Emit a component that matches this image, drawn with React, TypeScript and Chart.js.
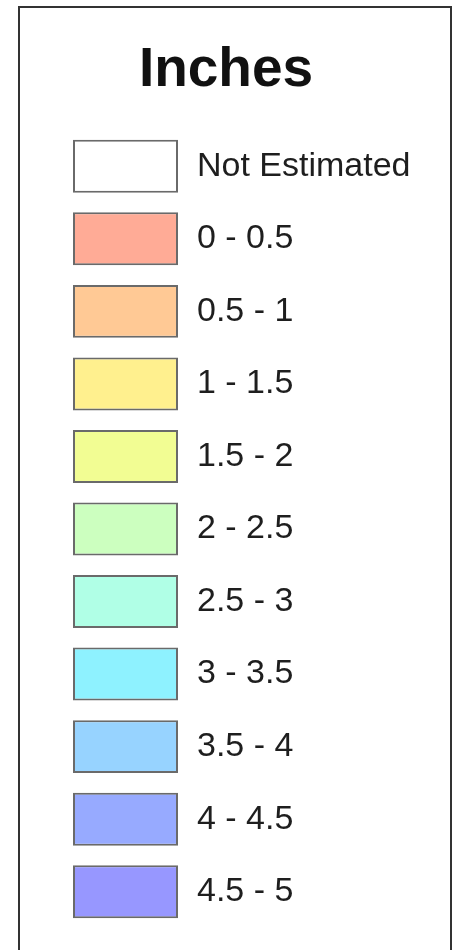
import React, { useEffect, useRef } from "react";
import { Chart, registerables } from "chart.js";

Chart.register(...registerables);

const legendTitle = "Inches";
const binLabels = [
  "Not Estimated",
  "0 - 0.5",
  "0.5 - 1",
  "1 - 1.5",
  "1.5 - 2",
  "2 - 2.5",
  "2.5 - 3",
  "3 - 3.5",
  "3.5 - 4",
  "4 - 4.5",
  "4.5 - 5",
];
const binColors = [
  "#ffffff",
  "#ffab96",
  "#ffc995",
  "#fff08e",
  "#f2fd93",
  "#ccffbf",
  "#b0ffe6",
  "#8ef2ff",
  "#97d3ff",
  "#97aaff",
  "#9797ff",
];
const swatchValues = [1, 1, 1, 1, 1, 1, 1, 1, 1, 1, 1];

const FONT = "'Liberation Sans', Arial, sans-serif";

export default function App() {
  const ref = useRef<HTMLCanvasElement | null>(null);

  useEffect(() => {
    if (!ref.current) return;
    const chart = new Chart(ref.current, {
      type: "bar",
      data: {
        labels: binLabels,
        datasets: [
          {
            data: swatchValues,
            backgroundColor: binColors,
            borderColor: "#6a6a6a",
            borderWidth: 2,
            borderSkipped: false,
            barPercentage: 0.73,
            categoryPercentage: 1,
            yAxisID: "y",
          },
        ],
      },
      options: {
        indexAxis: "y",
        responsive: false,
        animation: false,
        devicePixelRatio: 1,
        layout: { padding: { left: 0, right: 0, top: 0, bottom: 22 } },
        scales: {
          x: {
            display: false,
            min: 0,
            max: 1,
          },
          yl: {
            type: "category",
            position: "left",
            grid: { display: false, drawTicks: false },
            border: { display: false },
            ticks: { display: false },
            afterFit: (scale: any) => {
              scale.width = 73;
              scale.paddingTop = 0;
              scale.paddingBottom = 0;
            },
          },
          y: {
            type: "category",
            position: "right",
            grid: { display: false, drawTicks: false },
            border: { display: false },
            ticks: {
              autoSkip: false,
              padding: 19,
              color: "#1e1e1e",
              font: { family: FONT, size: 34 },
            },
            afterFit: (scale: any) => {
              scale.width = 274;
              scale.paddingTop = 0;
              scale.paddingBottom = 0;
            },
          },
        },
        plugins: {
          legend: { display: false },
          tooltip: { enabled: false },
          title: {
            display: true,
            text: legendTitle,
            color: "#111111",
            font: { family: FONT, size: 55, weight: "bold" },
            padding: { top: 38, bottom: 26 },
          },
        },
      },
    });
    return () => chart.destroy();
  }, []);

  return (
    <div>
      <canvas
        ref={ref}
        width={452}
        height={950}
        style={{ position: "absolute", left: 0, top: 0, width: 452, height: 950 }}
      />
      <div
        style={{
          position: "absolute",
          left: 18,
          top: 6,
          width: 434,
          height: 944,
          boxSizing: "border-box",
          borderTop: "2px solid #333",
          borderLeft: "2px solid #333",
          borderRight: "2px solid #333",
          pointerEvents: "none",
        }}
      />
    </div>
  );
}
